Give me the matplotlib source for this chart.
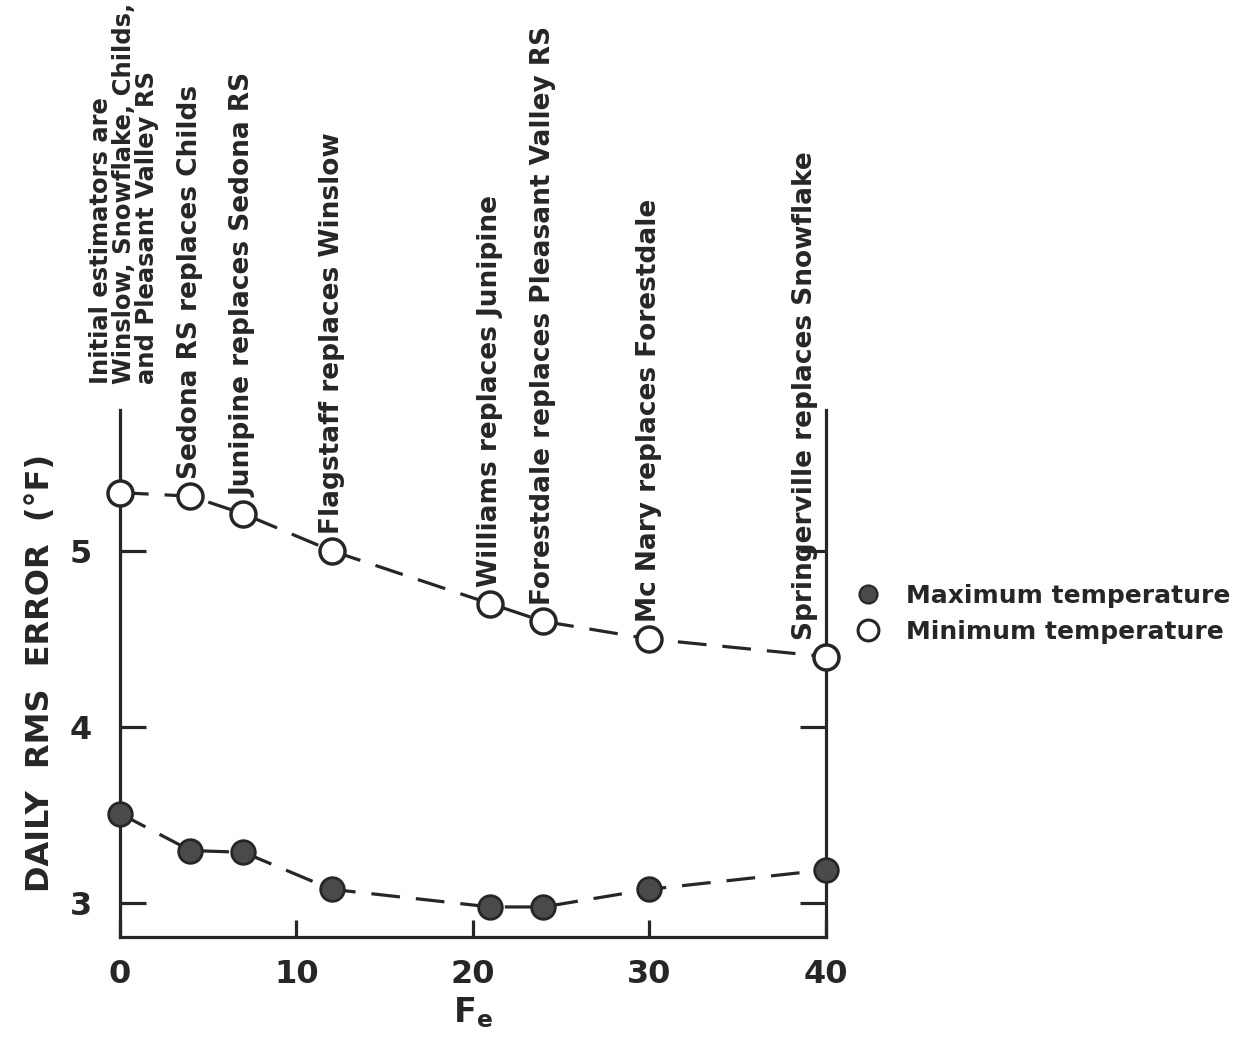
import matplotlib
matplotlib.use('Agg')
import matplotlib.pyplot as plt
from matplotlib.lines import Line2D

######################## DATA ###################################

# F_e values where the estimator set changes
fe = [0, 4, 7, 12, 21, 24, 30, 40]

# Daily RMS error (deg F)
max_temp = [3.51, 3.30, 3.29, 3.08, 2.98, 2.98, 3.08, 3.19]
min_temp = [5.33, 5.31, 5.21, 5.00, 4.70, 4.60, 4.50, 4.40]

# Station changes written above each point of the minimum curve
notes = ['Initial estimators are\nWinslow, Snowflake, Childs,\nand Pleasant Valley RS',
         'Sedona RS replaces Childs',
         'Junipine replaces Sedona RS',
         'Flagstaff replaces Winslow',
         'Williams replaces Junipine',
         'Forestdale replaces Pleasant Valley RS',
         'Mc Nary replaces Forestdale',
         'Springerville replaces Snowflake']

x_ticks = [0, 10, 20, 30, 40]
y_ticks = [3, 4, 5]

########################## PLOT ##################################

ink = '#262626'
fs = 19      # notes
tfs = 23     # tick labels

fig = plt.figure(figsize=(12.49, 10.48), dpi=100)
ax = fig.add_axes([0.096, 0.106, 0.565, 0.503])

dash = (0, (9, 5))
ax.plot(fe, max_temp, linestyle=dash, color=ink, lw=2.3, zorder=2)
ax.plot(fe, min_temp, linestyle=dash, color=ink, lw=2.3, zorder=2)
ax.plot(fe, max_temp, 'o', ms=17, mfc='#4a4a4a', mec=ink, mew=2, zorder=3, clip_on=False)
ax.plot(fe, min_temp, 'o', ms=18, mfc='white', mec=ink, mew=2.5, zorder=3, clip_on=False)

# rotated notes above the open circles
offsets = [(3, 78), (0, 12), (0, 12), (0, 12), (0, 12), (0, 12), (0, 12), (-15, 12)]
for i, (x, y, txt, off) in enumerate(zip(fe, min_temp, notes, offsets)):
    size = 17.5 if i == 0 else fs
    ax.annotate(txt, xy=(x, y), xytext=off, textcoords='offset points',
                rotation=90, ha='center', va='bottom', multialignment='left',
                fontsize=size, fontweight='bold', color=ink, linespacing=0.95,
                annotation_clip=False)

ax.set_xlim(0, 40)
ax.set_ylim(2.81, 5.80)
ax.set_xticks(x_ticks)
ax.set_yticks(y_ticks)

ax.spines['top'].set_visible(False)
for s in ['left', 'right', 'bottom']:
    ax.spines[s].set_linewidth(2.3)
    ax.spines[s].set_color(ink)

ax.tick_params(axis='y', direction='in', length=19, width=2.3, color=ink,
               right=True, labelsize=tfs, pad=20, labelcolor=ink)
ax.tick_params(axis='x', direction='in', length=12, width=2.3, color=ink,
               labelsize=tfs, pad=16, labelcolor=ink)
for lab in ax.get_xticklabels() + ax.get_yticklabels():
    lab.set_fontweight('bold')

ax.set_ylabel('DAILY  RMS  ERROR  (\u00b0F)', fontsize=23, fontweight='bold',
              color=ink, labelpad=10)
ax.set_xlabel(r'$\mathbf{F_e}$', fontsize=24, color=ink, labelpad=4)

handles = [Line2D([], [], ls='none', marker='o', ms=13, mfc='#4a4a4a', mec=ink, mew=1.5),
           Line2D([], [], ls='none', marker='o', ms=15, mfc='white', mec=ink, mew=2.2)]
leg = fig.legend(handles, ['Maximum temperature', 'Minimum temperature'],
                 loc='upper left', bbox_to_anchor=(0.675, 0.455), frameon=False,
                 borderpad=0, handlelength=1.0, handletextpad=1.0, labelspacing=0.5,
                 prop={'size': 18, 'weight': 'bold'})
for t in leg.get_texts():
    t.set_color(ink)

fig.savefig('out.png', dpi=100, facecolor='white')
